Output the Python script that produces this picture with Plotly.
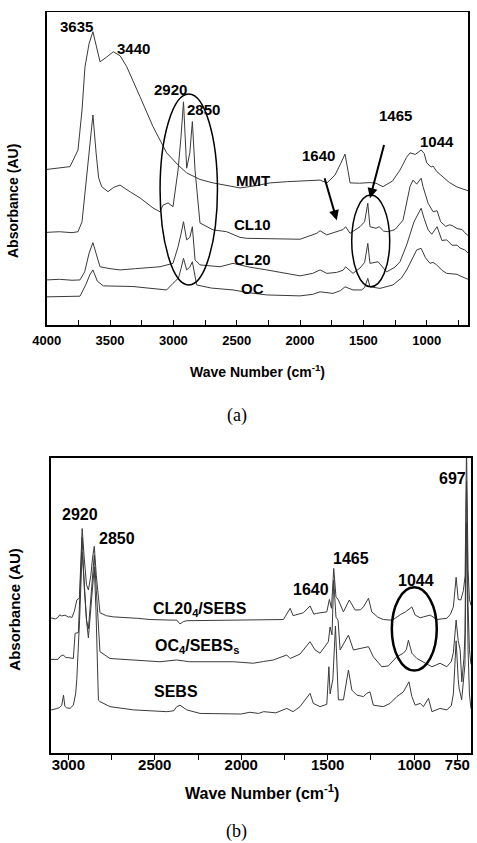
import plotly.graph_objects as go

# ---------------- data: panel (a) ----------------
mmt = [[4000, 49.7], [3900, 50.1], [3816, 50.6], [3753, 55.9], [3721, 68.7], [3698, 82.4], [3665, 90], [3635, 93.7],
       [3605, 88], [3579, 84.1], [3530, 85.5], [3474, 87.3], [3420, 86], [3368, 82.5], [3263, 72.9], [3161, 63.4],
       [3053, 55.0], [2960, 51], [2895, 48.6], [2790, 46.5], [2687, 45.4], [2580, 44.5], [2474, 43.8], [2350, 44.5],
       [2237, 45.4], [2100, 45.8], [1960, 46], [1842, 46.3], [1787, 45.4], [1724, 47.9], [1680, 51.5], [1645, 54.6],
       [1620, 49], [1605, 45.4], [1530, 45.3], [1448, 45.5], [1400, 45.3], [1345, 44.2], [1270, 46], [1211, 49.5],
       [1160, 53.5], [1132, 55.0], [1090, 54.5], [1060, 55.5], [1044, 55.9], [1020, 54.8], [1000, 51.8], [965, 50.5],
       [950, 50.8], [920, 49], [871, 47.3], [820, 45.5], [761, 44.1], [720, 43.5], [674, 42.9]]

cl10 = [[4000, 29.6], [3900, 29.8], [3800, 29.5], [3753, 29.8], [3721, 33.0], [3690, 45], [3660, 58], [3635, 67.1],
        [3610, 55], [3590, 47], [3566, 44.2], [3516, 42.6], [3470, 44], [3421, 44.7], [3340, 42.5], [3263, 40.6],
        [3161, 37.4], [3106, 36.2], [3082, 38.3], [3042, 39.0], [3003, 37.8], [2963, 49.5], [2940, 60], [2920, 71.3],
        [2895, 50.1], [2870, 55], [2850, 65.0], [2829, 49.5], [2790, 32.6], [2687, 30.4], [2579, 29.8], [2474, 28.0],
        [2421, 27.7], [2200, 27.5], [2000, 27.4], [1868, 29.3], [1842, 30.1], [1789, 28.8], [1711, 29.8], [1660, 30.5],
        [1640, 31.4], [1605, 29.3], [1527, 31.4], [1490, 33], [1465, 38.9], [1448, 31.4], [1400, 30.9], [1375, 31.4],
        [1340, 30], [1306, 29.8], [1250, 30.5], [1187, 33.5], [1132, 44.2], [1108, 46.3], [1079, 45], [1044, 46.9],
        [1029, 44.2], [1000, 40], [989, 38.9], [950, 36.2], [918, 36.5], [890, 33], [850, 31.5], [820, 32],
        [800, 31.8], [760, 30.8], [720, 30.5], [700, 29.5], [682, 28.8], [674, 28.6]]

cl20 = [[4000, 14.4], [3900, 14.6], [3800, 14.3], [3737, 14.4], [3700, 17], [3665, 23], [3635, 26.3], [3600, 21],
        [3579, 18.6], [3500, 18], [3421, 17.6], [3300, 18], [3200, 18.3], [3106, 18.6], [3003, 19.7], [2963, 25.0],
        [2940, 29], [2920, 33.0], [2895, 27.2], [2870, 28], [2850, 31.4], [2829, 20.8], [2790, 19.2], [2632, 18.6],
        [2529, 19.7], [2400, 18.5], [2263, 17.6], [2100, 16.3], [2000, 15.7], [1900, 16.5], [1842, 17.6], [1789, 16.5],
        [1711, 16.8], [1660, 17.5], [1640, 18.6], [1582, 16.5], [1527, 18.2], [1490, 20], [1465, 26.1], [1448, 19.7],
        [1384, 20.2], [1316, 17.0], [1250, 18.5], [1211, 20.2], [1158, 25.6], [1100, 33], [1044, 37.3], [1020, 34],
        [989, 30.4], [960, 29], [918, 31.4], [880, 27], [842, 27.2], [800, 25.5], [760, 25.5], [737, 24.6],
        [700, 24.0], [674, 23.0]]

oc = [[4000, 9.0], [3900, 9.1], [3800, 9.0], [3737, 9.2], [3690, 13], [3660, 16], [3635, 17.6], [3600, 14],
      [3553, 12.5], [3450, 12.4], [3319, 12.3], [3200, 11.8], [3053, 11.2], [3003, 13.3], [2960, 15], [2940, 18],
      [2920, 21.3], [2895, 17.6], [2870, 18.5], [2850, 20.2], [2816, 12.8], [2700, 11.8], [2529, 11.2], [2400, 10.3],
      [2263, 9.6], [2000, 9.3], [1900, 9.8], [1842, 10.6], [1740, 10.1], [1680, 11], [1645, 12.2], [1582, 11.2],
      [1513, 11.2], [1490, 12], [1465, 14.9], [1448, 12.2], [1369, 11.7], [1266, 12.8], [1200, 15], [1158, 17.6],
      [1079, 24.0], [1044, 24.5], [1010, 21.5], [974, 19.7], [950, 20], [921, 19.2], [880, 17.5], [842, 16.5],
      [800, 16.3], [760, 16.2], [737, 15.7], [700, 15.2], [674, 14.6]]

# ---------------- data: panel (b) ----------------
cl20_sebs = [[3102, 45.6], [3096, 45.7], [3075, 45.4], [3060, 45.9], [3050, 46.8], [3038, 46.4], [3019, 46.7],
             [3000, 46.0], [2990, 46.2], [2980, 45.8], [2965, 48], [2951, 51.8], [2936, 52.5], [2928, 65], [2920, 76.0],
             [2908, 66], [2895, 57], [2884, 55.2], [2870, 60], [2860, 66], [2850, 70.0], [2838, 60], [2826, 52],
             [2817, 47.5], [2780, 46.5], [2740, 46.1], [2600, 45.6], [2527, 45.2], [2400, 45.0], [2373, 45.0],
             [2354, 43.7], [2335, 44.5], [2315, 44.8], [2100, 45.0], [2000, 45.0], [1800, 45.1], [1756, 45.2],
             [1717, 49.0], [1700, 46.5], [1688, 46.7], [1640, 47.5], [1602, 49.8], [1580, 47], [1563, 47.3],
             [1505, 47.8], [1490, 52], [1478, 49], [1465, 62.5], [1452, 53], [1438, 51.8], [1409, 47.8], [1375, 51.8],
             [1341, 48.4], [1310, 48.5], [1293, 49.5], [1264, 52.4], [1245, 47.8], [1210, 46], [1178, 45.2],
             [1139, 45.0], [1120, 45.2], [1081, 46.8], [1050, 47.8], [1023, 49.0], [1013, 49.5], [994, 46.7],
             [965, 45.8], [946, 46.1], [907, 46.7], [869, 45.2], [840, 45.4], [811, 45.6], [790, 47], [773, 49.5],
             [757, 59.5], [745, 52], [730, 51.8], [715, 55], [705, 60], [697, 104], [688, 62], [680, 52], [671, 50]]

oc_sebs = [[3102, 31.7], [3096, 31.7], [3075, 31.9], [3060, 31.7], [3045, 32.8], [3029, 33.2], [3015, 32.3],
           [3000, 32.3], [2971, 32.0], [2961, 40.5], [2942, 40.8], [2930, 58], [2920, 73.0], [2908, 56], [2895, 45],
           [2884, 42], [2870, 52], [2860, 60], [2850, 67.0], [2838, 55], [2826, 45], [2817, 34.3], [2759, 32.0],
           [2600, 31.4], [2470, 30.9], [2373, 31.5], [2354, 31.3], [2300, 30.9], [2045, 30.9], [1930, 30.4],
           [1870, 31], [1814, 31.5], [1737, 33.2], [1717, 32.0], [1660, 33.5], [1640, 34.9], [1602, 37.7],
           [1573, 34.9], [1544, 33.8], [1496, 37.7], [1486, 42.7], [1475, 40], [1465, 58.5], [1452, 46], [1440, 45],
           [1428, 34.9], [1380, 39.9], [1351, 34.9], [1312, 35.5], [1264, 36.0], [1236, 32.6], [1187, 29.2],
           [1149, 29.5], [1100, 32.6], [1062, 33.8], [1045, 35], [1033, 38.2], [1013, 33.8], [984, 32.0],
           [946, 30.9], [897, 29.2], [850, 30.4], [811, 29.2], [785, 31], [773, 34], [757, 45], [745, 38],
           [734, 35], [724, 24.1], [712, 32], [706, 40], [697, 92], [688, 50], [680, 35], [671, 30]]

sebs = [[3102, 14.6], [3096, 14.6], [3070, 15.0], [3050, 15.4], [3038, 16.2], [3028, 19.6], [3020, 15.8],
        [3010, 15.3], [2990, 15.1], [2971, 16.2], [2958, 20], [2951, 25], [2935, 45], [2920, 68], [2905, 55],
        [2895, 45], [2884, 39], [2870, 48], [2860, 55], [2850, 63], [2840, 48], [2836, 40], [2826, 17.9],
        [2817, 17.4], [2759, 15.7], [2624, 14.6], [2431, 14.0], [2390, 14.3], [2373, 15.7], [2354, 16.2],
        [2315, 14.6], [2238, 13.4], [2045, 13.4], [2000, 13.2], [1950, 13.8], [1900, 13.4], [1870, 14.0],
        [1800, 13.6], [1737, 15.1], [1700, 14.0], [1660, 15.7], [1602, 20.2], [1583, 16.8], [1544, 15.7],
        [1505, 16.5], [1493, 29.2], [1486, 20], [1470, 25], [1455, 43], [1445, 25], [1438, 18.0], [1409, 18.0],
        [1380, 28.1], [1360, 21.3], [1331, 19.6], [1293, 19.1], [1274, 20.2], [1255, 20.7], [1236, 16.2],
        [1178, 15.7], [1139, 16.8], [1100, 19.1], [1062, 20.7], [1030, 24.1], [1013, 19.1], [994, 16.2],
        [965, 16.8], [946, 15.7], [917, 18.5], [897, 14.0], [850, 15.1], [811, 14.6], [785, 16], [773, 20],
        [757, 38], [745, 25], [740, 22], [725, 18], [706, 30], [697, 78], [688, 35], [680, 20], [671, 15]]

# ticks
major_a = [4000, 3500, 3000, 2500, 2000, 1500, 1000]
minor_a = [3750, 3250, 2750, 2250, 1750, 1250, 750]
major_b = [3000, 2500, 2000, 1500, 1000, 750]
minor_b = [2750, 2250, 1750, 1250]

# peak / curve labels: (text, wavenumber, absorbance)
labels_a = [("3635", 3763, 95.5), ("3440", 3311, 88.4), ("2920", 3023, 75.3), ("2850", 2764, 68.9),
            ("MMT", 2371, 46.3), ("CL10", 2379, 32.2), ("CL20", 2379, 20.8), ("OC", 2375, 11.7),
            ("1640", 1852, 54.3), ("1465", 1250, 66.9), ("1044", 915, 58.6)]
labels_b = [("2920", 2931, 80.9), ("2850", 2720, 72.7), ("CL20<sub>4</sub>/SEBS", 2238, 48.6),
            ("OC<sub>4</sub>/SEBS<sub>s</sub>", 2255, 36.2), ("SEBS", 2377, 20.7),
            ("1640", 1594, 55.2), ("1465", 1365, 65.9), ("1044", 989, 58.5), ("697", 780, 93.0)]

LINE = "#3a3a3a"
FONT = "Liberation Sans, Arial, sans-serif"

fig = go.Figure()
for s in (mmt, cl10, cl20, oc):
    fig.add_trace(go.Scatter(x=[p[0] for p in s], y=[p[1] for p in s], mode="lines",
                             line=dict(color=LINE, width=1), xaxis="x", yaxis="y",
                             showlegend=False, hoverinfo="skip"))
for s in (cl20_sebs, oc_sebs, sebs):
    fig.add_trace(go.Scatter(x=[p[0] for p in s], y=[p[1] for p in s], mode="lines",
                             line=dict(color=LINE, width=1), xaxis="x2", yaxis="y2",
                             showlegend=False, hoverinfo="skip"))

W, H = 477, 843
def px(x): return x / W
def py(y): return 1 - y / H

axis_common = dict(showline=True, mirror=True, linecolor="black", linewidth=1.5,
                   showgrid=False, zeroline=False, automargin=False)

fig.update_layout(
    template="none",
    width=W, height=H, margin=dict(l=0, r=0, t=0, b=0, pad=0),
    paper_bgcolor="white", plot_bgcolor="white",
    xaxis=dict(domain=[px(46.7), px(468)], range=[4000, 674], anchor="y",
               tickvals=major_a, ticks="inside", ticklen=5, tickwidth=1, tickcolor="black",
               minor=dict(tickvals=minor_a, ticks="inside", ticklen=5, tickwidth=1, tickcolor="black",
                          showgrid=False),
               ticklabelstandoff=3,
               tickfont=dict(family=FONT, size=13, color="black", weight="bold"), **axis_common),
    yaxis=dict(domain=[py(325), py(12)], range=[0, 100], anchor="x",
               showticklabels=False, ticks="", **axis_common),
    xaxis2=dict(domain=[px(50.7), px(471)], range=[3102, 671], anchor="y2",
                tickvals=major_b, ticks="outside", ticklen=5, tickwidth=1, tickcolor="black",
                minor=dict(tickvals=minor_b, ticks="outside", ticklen=5, tickwidth=1, tickcolor="black",
                           showgrid=False),
                ticklabelstandoff=0,
                tickfont=dict(family=FONT, size=15, color="black", weight="bold"), **axis_common),
    yaxis2=dict(domain=[py(753), py(457.7)], range=[0, 100], anchor="x2",
                showticklabels=False, ticks="", **axis_common),
)
# pull the lower panel's tick labels closer to its axis line
try:
    fig.layout.xaxis2.ticklabelstandoff = -8
except ValueError:
    pass

ann = []
for t, x, y in labels_a:
    ann.append(dict(text=t, x=x, y=y, xref="x", yref="y", showarrow=False,
                    xanchor="center", yanchor="middle",
                    font=dict(family=FONT, size=15, color="black", weight="bold")))
for t, x, y in labels_b:
    ann.append(dict(text=t, x=x, y=y, xref="x2", yref="y2", showarrow=False,
                    xanchor="center", yanchor="middle",
                    font=dict(family=FONT, size=16, color="black", weight="bold")))

# arrows in panel (a)
ann.append(dict(x=1710, y=33.5, ax=1829, ay=50.1, xref="x", yref="y", axref="x", ayref="y",
                showarrow=True, arrowhead=2, arrowsize=1, arrowwidth=2, arrowcolor="black", text=" "))
ann.append(dict(x=1448, y=40.5, ax=1316, ay=60.7, xref="x", yref="y", axref="x", ayref="y",
                showarrow=True, arrowhead=2, arrowsize=1, arrowwidth=2, arrowcolor="black", text=" "))

# axis titles and panel captions
def paper_text(text, x, y, size, family=FONT, angle=0):
    return dict(text=text, x=px(x), y=py(y), xref="paper", yref="paper", showarrow=False,
                xanchor="center", yanchor="middle", textangle=angle,
                font=dict(family=family, size=size, color="black"))

SERIF = "Liberation Serif, Times New Roman, serif"
ann += [
    paper_text("<b>Absorbance (AU)</b>", 13.5, 201.5, 14, angle=-90),
    paper_text("<b>Absorbance (AU)</b>", 13.7, 609, 15, angle=-90),
    paper_text("<b>Wave Number (cm<sup>-1</sup>)</b>", 257, 371, 14),
    paper_text("<b>Wave Number (cm<sup>-1</sup>)</b>", 261.7, 792, 16),
    paper_text("(a)", 236.7, 415, 18, family=SERIF),
    paper_text("(b)", 236, 831.7, 18, family=SERIF),
]
fig.update_layout(annotations=ann)

# ellipses
fig.add_shape(type="circle", xref="x", yref="y", x0=3105, x1=2652, y0=12.8, y1=73.8,
              line=dict(color="black", width=1.5))
fig.add_shape(type="circle", xref="x", yref="y", x0=1592, x1=1292, y0=12.2, y1=41.5,
              line=dict(color="black", width=1.5))
fig.add_shape(type="circle", xref="x2", yref="y2", x0=1129, x1=869, y0=27.9, y1=56.1,
              line=dict(color="black", width=2.5))

fig.write_html("out.html", config={"displayModeBar": False, "staticPlot": True},
               post_script="document.body.style.margin='0';document.body.style.overflow='hidden';")
